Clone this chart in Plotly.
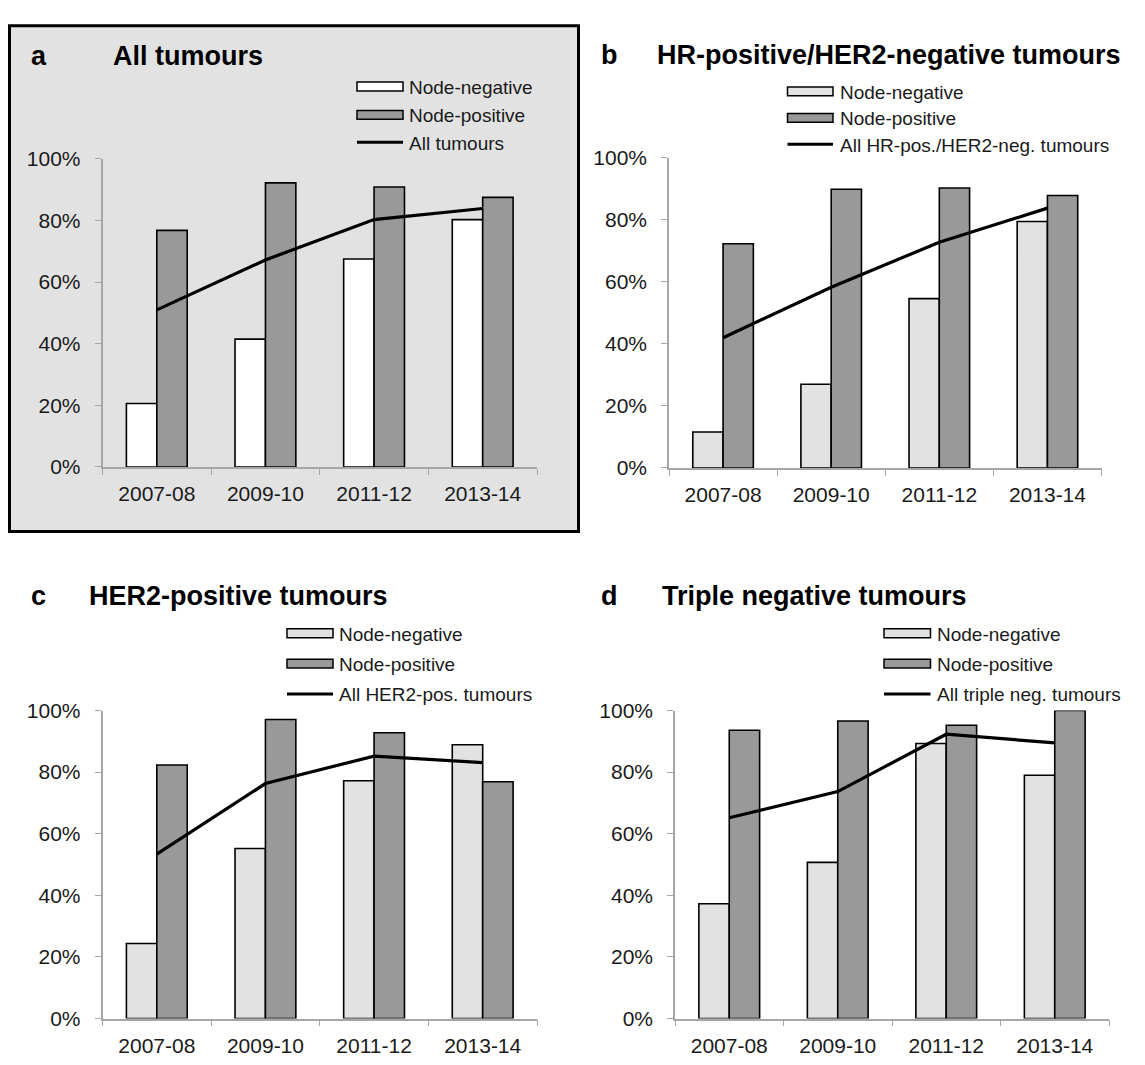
import plotly.graph_objects as go

W, H = 1129, 1049   # page body has an 8px margin
OFF = 8

periods = ["2007-08", "2009-10", "2011-12", "2013-14"]

a_neg = [0.206, 0.415, 0.675, 0.803]
a_pos = [0.768, 0.922, 0.909, 0.875]
a_all = [0.510, 0.672, 0.803, 0.839]

b_neg = [0.116, 0.270, 0.546, 0.795]
b_pos = [0.723, 0.899, 0.903, 0.879]
b_all = [0.420, 0.583, 0.728, 0.838]

c_neg = [0.244, 0.552, 0.772, 0.889]
c_pos = [0.823, 0.971, 0.928, 0.769]
c_all = [0.534, 0.763, 0.852, 0.831]

d_neg = [0.373, 0.507, 0.893, 0.790]
d_pos = [0.936, 0.966, 0.952, 1.000]
d_all = [0.652, 0.737, 0.923, 0.895]

panel_letters = ["a", "b", "c", "d"]
panel_titles = ["All tumours", "HR-positive/HER2-negative tumours",
                "HER2-positive tumours", "Triple negative tumours"]
legend_neg = "Node-negative"
legend_pos = "Node-positive"
line_names = ["All tumours", "All HR-pos./HER2-neg. tumours",
              "All HER2-pos. tumours", "All triple neg. tumours"]

data = [(a_neg, a_pos, a_all), (b_neg, b_pos, b_all),
        (c_neg, c_pos, c_all), (d_neg, d_pos, d_all)]

FONT = "Arial, 'Liberation Sans', Helvetica, sans-serif"
NEG_COLORS = ["#ffffff", "#e2e2e2", "#e2e2e2", "#e2e2e2"]
POS_COLOR = "#999999"
AXIS_COLOR = "#a6a6a6"
TXT = "#1a1a1a"

# plot areas in page pixels: (x0, x1, ytop, ybottom)
areas = [(102.5, 537, 150, 465), (669, 1101.5, 149, 466),
         (102.5, 537, 714, 1029), (675, 1109, 714, 1029)]

def px(x):
    return (x - OFF) / W

def py(y):
    return 1 - (y - OFF) / H

fig = go.Figure()
layout = {}
for i, (neg, pos, allv) in enumerate(data):
    k = "" if i == 0 else str(i + 1)
    xa, ya = "x" + k, "y" + k
    fig.add_trace(go.Bar(x=periods, y=neg, name=legend_neg, xaxis=xa, yaxis=ya,
                         marker=dict(color=NEG_COLORS[i], line=dict(color="black", width=1.6)),
                         showlegend=False, hoverinfo="y"))
    fig.add_trace(go.Bar(x=periods, y=pos, name=legend_pos, xaxis=xa, yaxis=ya,
                         marker=dict(color=POS_COLOR, line=dict(color="black", width=1.6)),
                         showlegend=False, hoverinfo="y"))
    fig.add_trace(go.Scatter(x=periods, y=allv, name=line_names[i], xaxis=xa, yaxis=ya,
                             mode="lines", line=dict(color="black", width=3.2),
                             showlegend=False, hoverinfo="y"))
    x0, x1, yt, yb = areas[i]
    layout["xaxis" + k] = dict(domain=[px(x0), px(x1)], anchor=ya, type="category",
                               tickson="boundaries", ticks="outside", ticklen=6,
                               tickcolor=AXIS_COLOR, showline=True, linecolor=AXIS_COLOR,
                               linewidth=1.5, showgrid=False, zeroline=False,
                               ticklabelstandoff=7,
                               tickfont=dict(family=FONT, size=21, color=TXT))
    layout["yaxis" + k] = dict(domain=[py(yb), py(yt)], anchor=xa, range=[0, 1],
                               tickvals=[0, 0.2, 0.4, 0.6, 0.8, 1.0], tickformat=".0%",
                               ticks="outside", ticklen=6, tickcolor=AXIS_COLOR,
                               showline=True, linecolor=AXIS_COLOR, linewidth=1.5,
                               showgrid=False, zeroline=False, ticklabelstandoff=10,
                               tickfont=dict(family=FONT, size=21, color=TXT))

shapes = [dict(type="rect", xref="paper", yref="paper", x0=px(9.5), x1=px(578.5),
               y0=py(531), y1=py(14), fillcolor="#e2e2e2",
               line=dict(color="black", width=3), layer="below")]
annotations = []

# titles: (letter x, title x, cap-centre y)
title_pos = [(28.5, 110.5, 45), (598.5, 655, 44), (28.5, 86.5, 597), (598.5, 660, 597)]
for i, (lx, tx, ty) in enumerate(title_pos):
    annotations.append(dict(xref="paper", yref="paper", x=px(lx), y=py(ty), xanchor="left",
                            yanchor="middle", text="<b>" + panel_letters[i] + "</b>",
                            showarrow=False, font=dict(family=FONT, size=27, color="black")))
    annotations.append(dict(xref="paper", yref="paper", x=px(tx), y=py(ty), xanchor="left",
                            yanchor="middle", text="<b>" + panel_titles[i] + "</b>",
                            showarrow=False, font=dict(family=FONT, size=27, color="black")))

# legends: (swatch x0, swatch x1, text x, row y's)
leg_pos = [(357, 403, 407, [76, 105, 133]), (787.5, 833, 838, [81, 108, 135]),
           (287, 333, 337, [635, 666, 697]), (884, 930.5, 935, [635, 666, 697])]
for i, (sx0, sx1, tx, rows) in enumerate(leg_pos):
    labels = [legend_neg, legend_pos, line_names[i]]
    for j, (lab, ry) in enumerate(zip(labels, rows)):
        if j < 2:
            fill = NEG_COLORS[i] if j == 0 else POS_COLOR
            shapes.append(dict(type="rect", xref="paper", yref="paper", x0=px(sx0), x1=px(sx1),
                               y0=py(ry + 4.5), y1=py(ry - 4.5), fillcolor=fill,
                               line=dict(color="black", width=1.5)))
        else:
            shapes.append(dict(type="line", xref="paper", yref="paper", x0=px(sx0), x1=px(sx1),
                               y0=py(ry), y1=py(ry), line=dict(color="black", width=3)))
        annotations.append(dict(xref="paper", yref="paper", x=px(tx), y=py(ry + 1), xanchor="left",
                                yanchor="middle", text=lab, showarrow=False,
                                font=dict(family=FONT, size=19, color=TXT)))

fig.update_layout(width=W, height=H, margin=dict(l=0, r=0, t=0, b=0),
                  paper_bgcolor="white", plot_bgcolor="rgba(0,0,0,0)",
                  barmode="group", bargap=0.44, bargroupgap=0,
                  shapes=shapes, annotations=annotations, showlegend=False,
                  **layout)

fig.write_html("out.html")
